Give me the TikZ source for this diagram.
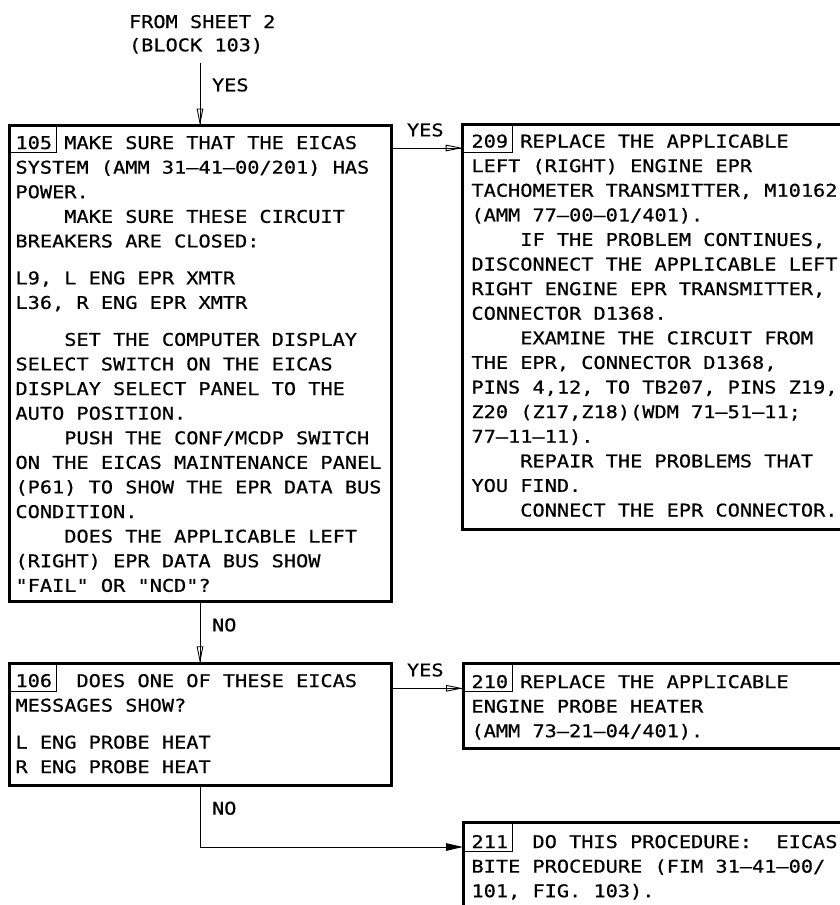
\documentclass[tikz,border=0pt]{standalone}
\usepackage{fontspec}
\newfontfamily\cadfont[FakeStretch=1.158,FakeBold=0.6]{DejaVu Sans Mono}
\usetikzlibrary{arrows.meta}
\newcommand{\ind}{\hphantom{MMMM}}
\tikzset{
  bigbox/.style={draw, line width=3pt, anchor=north west, inner sep=0pt, outer sep=0pt},
  numbox/.style={draw, line width=0.9pt, anchor=north west, inner sep=0pt, outer sep=0pt},
  txt/.style={anchor=base west, inner sep=0pt, outer sep=0pt, font=\cadfont\fontsize{17.5}{24.6}\selectfont},
  conn/.style={line width=1pt},
  openarr/.style={-{Triangle[open,length=17pt,width=6.5pt,line width=0.9pt]}},
  fillarr/.style={-{Triangle[length=17pt,width=7.5pt]}}
}
\begin{document}
\begin{tikzpicture}[x=1pt,y=-1pt]
\clip (0,0) rectangle (840,905);
\fill[white] (0,0) rectangle (840,905);

% boxes
\node[bigbox, minimum width=382.5pt, minimum height=476pt] (b105) at (9,125.5) {};
\node[bigbox, minimum width=382.5pt, minimum height=122.4pt] (b106) at (9,663.3) {};
\node[bigbox, minimum width=400pt, minimum height=405pt] (b209) at (462.7,124.5) {};
\node[bigbox, minimum width=400pt, minimum height=85pt] (b210) at (463,663.3) {};
\node[bigbox, minimum width=400pt, minimum height=150pt] (b211) at (463,822.7) {};

% number boxes
\node[numbox, minimum width=47pt, minimum height=26.5pt] (n105) at (9,125.5) {};
\node[numbox, minimum width=47pt, minimum height=28pt] (n106) at (9,663.3) {};
\node[numbox, minimum width=49.6pt, minimum height=28pt] (n209) at (462.7,124.5) {};
\node[numbox, minimum width=49.3pt, minimum height=28pt] (n210) at (463,663.3) {};
\node[numbox, minimum width=49pt, minimum height=29pt] (n211) at (463,822.7) {};

% texts
\node[txt] (src1) at (129,28) {FROM SHEET 2};
\node[txt] (src2) at (129,51.3) {(BLOCK 103)};

\node[txt] (t105) at (15.5,149) {\parbox[t]{420pt}{\raggedright
105 MAKE SURE THAT THE EICAS\\
SYSTEM (AMM 31–41–00/201) HAS\\
POWER.\\
\ind MAKE SURE THESE CIRCUIT\\
BREAKERS ARE CLOSED:\\[12.3pt]
L9, L ENG EPR XMTR\\
L36, R ENG EPR XMTR\\[12.3pt]
\ind SET THE COMPUTER DISPLAY\\
SELECT SWITCH ON THE EICAS\\
DISPLAY SELECT PANEL TO THE\\
AUTO POSITION.\\
\ind PUSH THE CONF/MCDP SWITCH\\
ON THE EICAS MAINTENANCE PANEL\\
(P61) TO SHOW THE EPR DATA BUS\\
CONDITION.\\
\ind DOES THE APPLICABLE LEFT\\
(RIGHT) EPR DATA BUS SHOW\\
"FAIL" OR "NCD"?}};

\node[txt] (t106) at (15.5,687) {\parbox[t]{420pt}{\raggedright
106~ DOES ONE OF THESE EICAS\\
MESSAGES SHOW?\\[12.3pt]
L ENG PROBE HEAT\\
R ENG PROBE HEAT}};

\node[txt] (t209) at (471.5,147.5) {\parbox[t]{420pt}{\raggedright
209 REPLACE THE APPLICABLE\\
LEFT (RIGHT) ENGINE EPR\\
TACHOMETER TRANSMITTER, M10162\\
(AMM 77–00–01/401).\\
\ind IF THE PROBLEM CONTINUES,\\
DISCONNECT THE APPLICABLE LEFT\\
RIGHT ENGINE EPR TRANSMITTER,\\
CONNECTOR D1368.\\
\ind EXAMINE THE CIRCUIT FROM\\
THE EPR, CONNECTOR D1368,\\
PINS 4,12, TO TB207, PINS Z19,\\
Z20 (Z17,Z18)(WDM 71–51–11;\\
77–11–11).\\
\ind REPAIR THE PROBLEMS THAT\\
YOU FIND.\\
\ind CONNECT THE EPR CONNECTOR.}};

\node[txt] (t210) at (471.5,688) {\parbox[t]{420pt}{\raggedright
210 REPLACE THE APPLICABLE\\
ENGINE PROBE HEATER\\
(AMM 73–21–04/401).}};

\node[txt] (t211) at (471.5,848) {\parbox[t]{420pt}{\raggedright
211~ DO THIS PROCEDURE:~ EICAS\\
BITE PROCEDURE (FIM 31–41–00/\\
101, FIG. 103).}};

% labels
\node[txt] (l1) at (212,91.3) {YES};
\node[txt] (l2) at (407,136.3) {YES};
\node[txt] (l3) at (212,631.3) {NO};
\node[txt] (l4) at (407,676.3) {YES};
\node[txt] (l5) at (212,814.6) {NO};

% connectors
\coordinate (s) at (200,62.7);
\coordinate (y1) at (0,148);
\coordinate (y2) at (0,688.3);
\coordinate (y3) at (0,847);
\draw[conn] (s) -- (s |- b105.north);
\draw[conn,openarr] (s) -- (s |- b105.north);
\draw[conn] (b105.east |- y1) -- (b209.west |- y1);
\draw[conn,openarr] (b105.east |- y1) -- (b209.west |- y1);
\draw[conn] (b105.south -| s) -- (b106.north -| s);
\draw[conn,openarr] (b105.south -| s) -- (b106.north -| s);
\draw[conn] (b106.east |- y2) -- (b210.west |- y2);
\draw[conn,openarr] (b106.east |- y2) -- (b210.west |- y2);
\draw[conn,fillarr] (b106.south -| s) |- (b211.west |- y3);
\end{tikzpicture}
\end{document}
